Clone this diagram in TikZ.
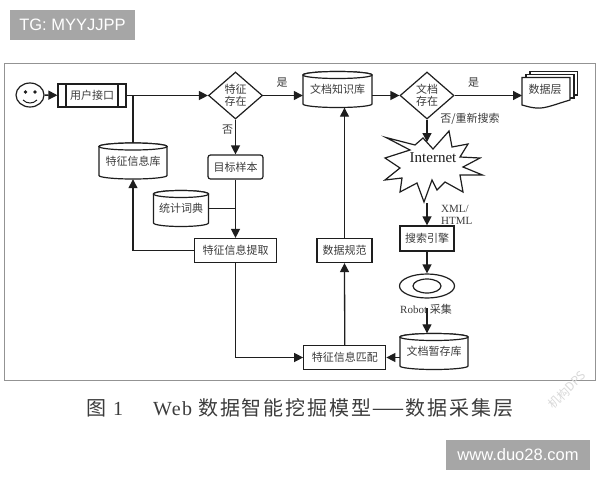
\documentclass[tikz,border=0pt]{standalone}
\usepackage{fontspec}
\usepackage{graphicx}
\setmainfont{Liberation Serif}
\setsansfont{Liberation Sans}
\newfontfamily\cjk{Noto Sans CJK SC}
\newfontfamily\cjkcap[LetterSpace=9.5]{Noto Sans CJK SC}
\newfontfamily\latcap[LetterSpace=7]{Liberation Serif}
\usetikzlibrary{shapes.geometric,arrows.meta,calc}
\definecolor{ink}{HTML}{1E1E1E}
\definecolor{txt}{HTML}{3C3C3C}
\definecolor{tag}{HTML}{A6A6A6}
\tikzset{
  lab/.style={font=\fontsize{11}{12.5}\selectfont\cjk,text=txt,inner sep=0pt,align=center},
  boxn/.style={draw=ink,line width=1.2pt,fill=white,lab,rectangle,minimum width=#1,minimum height=24pt},
  rbox/.style={boxn=#1,rounded corners=2.5pt},
  dec/.style={draw=ink,line width=1.2pt,fill=white,lab,diamond,minimum width=54pt,minimum height=47pt,inner sep=0pt},
  cylbody/.style={draw=ink,line width=1.2pt,fill=white},
  flow/.style={draw=ink,line width=1.3pt,-{Triangle[length=9pt,width=9pt]}},
  plain/.style={draw=ink,line width=1.3pt},
  tagbox/.style={fill=tag,text=white,font=\fontsize{16.5}{18}\selectfont\sffamily,inner sep=0pt}
}
% name, cx, cy, width, height, text
\newcommand{\cylnode}[6]{%
  \pgfmathsetmacro{\cwd}{#4/2}\pgfmathsetmacro{\chd}{#5/2}%
  \path[cylbody] (#2-\cwd,#3-\chd+3.5) -- (#2-\cwd,#3+\chd-3.5) arc[start angle=180,end angle=360,x radius=\cwd pt,y radius=3.5pt] -- (#2+\cwd,#3-\chd+3.5) arc[start angle=0,end angle=180,x radius=\cwd pt,y radius=3.5pt] -- cycle;
  \path[cylbody] (#2,#3-\chd+3.5) ellipse ({\cwd pt} and 3.5pt);
  \node[lab,minimum width=#4pt,minimum height=#5pt] (#1) at (#2,#3) {#6};%
}
\begin{document}
\begin{tikzpicture}[x=1pt,y=-1pt]
\useasboundingbox (0,0) rectangle (600,480);
\fill[white] (0,0) rectangle (600,480);
\node[tagbox,minimum width=125pt,minimum height=30pt] (tg) at (72.5,25) {TG: MYYJJPP};
\node[tagbox,minimum width=144pt,minimum height=30pt] (www) at (518,455) {www.duo28.com};
\draw[draw=gray!85,line width=1pt] (4.5,63.5) rectangle (595,380);
% nodes
\node[draw=ink,line width=1.2pt,ellipse,minimum width=28pt,minimum height=24pt,inner sep=0pt] (smile) at (30,95) {};
\fill[ink] (25.5,92) circle (1.8pt) (35,92) circle (1.8pt);
\draw[ink,line width=1pt] (23,100) .. controls (27,104) and (33,104) .. (37,100);
\node[boxn=68pt,minimum height=23pt] (ui) at (92,95.5) {用户接口};
\draw[ink,line width=1.2pt] (66,84) -- (66,107) (118,84) -- (118,107);
\node[dec] (d1) at (235.5,95.5) {特征\\存在};
\cylnode{feat}{133}{161}{68}{36}{特征信息库}
\node[rbox=55pt] (target) at (235.5,167) {目标样本};
\cylnode{dict}{181}{208.5}{55}{36}{统计词典}
\node[boxn=82pt] (extract) at (235.5,250.5) {特征信息提取};
\cylnode{kb}{337.5}{89.5}{69}{36}{文档知识库}
\node[dec] (d2) at (427,95.5) {文档\\存在};
\node[boxn=55pt] (norm) at (344.5,250.5) {数据规范};
\node[boxn=82pt] (match) at (344.75,357.5) {特征信息匹配};
\node[boxn=54pt,minimum height=25pt] (search) at (427,238.5) {搜索引擎};
\node[draw=ink,line width=1.2pt,ellipse,minimum width=55pt,minimum height=24pt,inner sep=0pt] (disc) at (427,286) {};
\draw[ink,line width=1.2pt] (427,286) ellipse (14pt and 7pt);
\cylnode{store}{434}{351.5}{68}{36}{文档暂存库}
% document stack
\draw[ink,line width=1.2pt,fill=white] (530,71.7) rectangle (577.5,95);
\draw[ink,line width=1.2pt,fill=white] (526,74.5) rectangle (574,98);
\draw[ink,line width=1.2pt,fill=white] (522,77.5) -- (570,77.5) -- (570,100) .. controls (556,104) and (545,109) .. (536,108) .. controls (530,107.5) and (526,106) .. (522,105) -- cycle;
\node[lab] (layer) at (545,89) {数据层};
\coordinate (layerin) at (522,95.5);
% Internet burst
\draw[ink,line width=1.2pt,fill=white] (386,137.5) -- (415,145) -- (423,138) -- (433,149) -- (449,131) -- (452,147) -- (468,144) -- (460,157) -- (480,158) -- (463,167) -- (482.5,175) -- (460,175) -- (463,192) -- (445,182) -- (437,190) -- (432,180) -- (424,202) -- (417,183) -- (400,192) -- (402,178) -- (385,180) -- (400,168) -- (385,158) -- (410,150) -- cycle;
\node[font=\fontsize{15}{16}\selectfont,text=ink,inner sep=0pt] (inet) at (433,157.5) {Internet};
\coordinate (inettop) at (427,142);
\coordinate (inetbot) at (427,203);
% connectors
\draw[flow] (smile) -- (ui);
\draw[flow] (ui) -- (d1);
\draw[plain] (feat.north) -- (feat.north |- ui.east);
\draw[flow] (d1) -- (kb.west |- d1.east);
\draw[flow] (d1) -- (target);
\draw[flow] (target) -- (extract);
\draw[plain] (dict.east) -- (target.south |- dict.east);
\draw[flow] (extract.west) -| (feat.south);
\draw[flow] (extract.south) |- (match.west);
\draw[flow] (match.north) -- (norm.south);
\draw[flow] (norm.north) -- (norm.north |- kb.south);
\draw[flow] (store.west |- match.east) -- (match.east);
\draw[flow] (kb.east |- d2.west) -- (d2.west);
\draw[flow] (d2.east) -- (layerin);
\draw[flow] (d2.south) -- (inettop);
\draw[flow] (inetbot) -- (search.north);
\draw[flow] (search.south) -- (disc.north);
% labels
\node[lab] (yes1) at (282,83) {是};
\node[lab] (no1) at (227.5,130) {否};
\node[lab] (yes2) at (473.5,83) {是};
\node[lab] (retry) at (470,119) {否/重新搜索};
\node[font=\fontsize{11}{12.5}\selectfont,text=txt,inner sep=0pt,align=left,anchor=west] (xml) at (441,215) {XML/\\HTML};
\node[font=\fontsize{11}{12}\selectfont,text=txt,inner sep=0pt,anchor=west] (robot) at (400,309) {Robot {\cjk 采集}};
\coordinate (robotline) at (427,308);
\draw[flow] (robotline) -- (robotline |- store.north);
% caption
\node[font=\fontsize{20}{22}\selectfont,text=txt,inner sep=0pt,anchor=west] (capnum) at (86,408) {{\cjk 图}\hspace{7pt}{\latcap 1}};
\node[font=\fontsize{20}{22}\selectfont,text=txt,inner sep=0pt,anchor=west] (captitle) at (153,408) {{\latcap Web}\hspace{6pt}{\cjkcap 数据智能挖掘模型\scalebox{1.9}[1]{—}数据采集层}};
\node[font=\fontsize{12}{13}\selectfont\cjk,text=black!15,rotate=45,inner sep=0pt] (mark) at (567,390) {机构DPS};
\end{tikzpicture}
\end{document}
